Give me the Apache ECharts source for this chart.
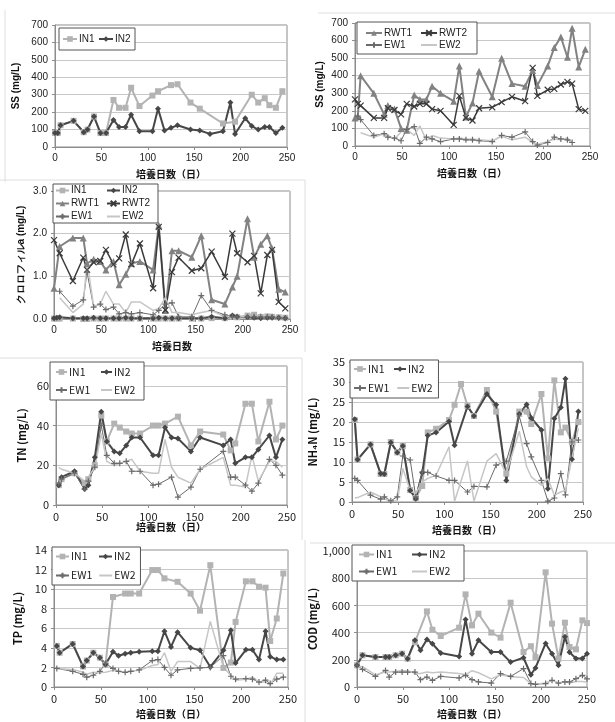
<!DOCTYPE html>
<html lang="ja">
<head>
<meta charset="UTF-8">
<title>水質の経日変化</title>
<script src="https://cdn.jsdelivr.net/npm/echarts@6/dist/echarts.min.js"></script>
<style>
  html, body { margin: 0; padding: 0; background: #fff; }
  #main { width: 615px; height: 722px; }
</style>
</head>
<body>
<div id="main"></div>
<script>
// 培養日数 (common sampling days, null = not measured)
var days = [0, 3, 6, 20, 31, 35, 42, 49, 55, 63, 69, 76, 82, 91, 105, 111, 118, 125, 132, 146, 156, 167, 181, 189, 194, 205, 212, 219, 226, 231, 238, 245, 250];

// SS (mg/L)
var ssIN1 = [80, 80, 125, 150, 85, 100, 175, 80, 80, 270, 225, 225, 340, 235, 295, 320, null, 355, 360, 255, 220, null, 135, null, 145, null, 300, 255, 280, 240, 225, 320, null];
var ssIN2 = [80, 80, 125, 150, 85, 100, 175, 80, 80, 155, 115, 115, 185, 90, 90, 220, 95, 110, 125, 100, 95, 75, 90, 255, 75, 165, 120, 100, 115, 115, 80, 110, null];
var ssRWT1 = [160, 170, 400, 300, 180, 230, 210, 100, 90, 290, 265, 265, 340, 300, 255, 455, 165, 245, 425, 280, 500, 355, 340, 430, 345, 455, 560, 620, 505, 670, 450, 550, null];
var ssRWT2 = [265, 240, 230, 160, 160, 215, 205, 180, 240, 225, 240, 240, 210, 200, 120, 285, 160, 145, 215, 220, 250, 280, 255, 445, 285, 320, 325, 350, 365, 355, 210, 200, null];
var ssEW1 = [null, 170, 150, 60, 70, 50, 45, 30, 95, 110, 15, 50, 40, 25, 40, 40, 35, 35, 30, 25, 60, 50, 80, 25, 5, 20, 50, 40, 35, 20, null, null, null];
var ssEW2 = [null, null, 75, 50, 70, 60, 40, 80, 95, 60, 115, 30, 60, 45, 40, 45, 40, 40, 35, 30, 55, 35, 50, 20, 10, 25, 40, 35, 45, 20, null, null, null];

// クロロフィルa (mg/L)
var chlIN1 = [0.01, 0.01, 0.01, 0.01, 0.0, 0.0, 0.01, 0.01, 0.01, 0.01, 0.01, 0.01, 0.01, 0.01, 0.01, 0.01, 0.01, 0.01, 0.01, 0.01, 0.01, 0.02, 0.02, 0.05, 0.04, 0.08, 0.1, 0.05, 0.06, 0.05, 0.04, 0.03, null];
var chlIN2 = [0.02, 0.03, 0.04, 0.02, 0.02, 0.02, 0.03, 0.02, 0.02, 0.02, 0.02, 0.03, 0.02, 0.02, 0.02, 0.03, 0.02, 0.02, 0.02, 0.02, 0.02, 0.05, 0.02, 0.08, 0.05, 0.04, 0.03, 0.02, 0.03, 0.03, 0.03, 0.02, null];
var chlRWT1 = [0.72, null, 1.7, 1.9, 1.9, 1.3, 1.4, 1.35, 1.15, 1.35, 0.8, 1.05, 1.3, 1.35, 1.15, 2.2, 0.2, 1.6, 1.6, 1.45, 1.95, 0.45, 0.35, 0.75, 1.0, 2.35, 1.45, 1.75, 1.95, 1.65, 0.7, 0.63, null];
var chlRWT2 = [1.85, null, 1.54, 0.89, 1.44, 1.15, 1.33, 1.36, 1.62, 1.28, 1.42, 1.98, 1.28, 1.77, 0.72, 2.16, 0.21, 1.1, 1.44, 1.13, 1.19, 1.58, 0.99, 2.0, 1.54, 1.33, 1.48, 0.6, 1.5, 1.62, 0.4, 0.25, null];
var chlEW1 = [null, null, 0.65, 0.3, 0.45, 1.1, 0.28, 0.35, 0.22, 0.28, 0.12, 0.15, 0.12, 0.15, 0.1, 0.2, 0.35, 0.38, 0.05, 0.05, 0.55, 0.2, 0.1, 0.05, 0.05, 0.05, 0.05, 0.05, 0.05, 0.05, 0.03, 0.02, null];
var chlEW2 = [null, null, 0.5, 0.15, 0.35, 1.35, 0.3, 0.35, 0.65, 0.35, 0.35, 0.15, 0.4, 0.4, 0.2, 0.25, 0.5, 0.15, 0.15, 0.1, 0.15, 0.2, 0.05, 0.05, 0.05, 0.05, 0.08, 0.05, 0.05, 0.05, 0.05, 0.05, null];

// TN (mg/L)
var tnIN1 = [null, 10, 13, 16, 11, 13, 20, 45, 32, 41, 39, 37, 36, 36, 40, 40, 41, null, 44.5, 30, 37, null, 35.5, 27.5, 31, 51, 51, 32, null, 52, 33, 40, null];
var tnIN2 = [null, 10, 14, 17, 8, 10, 24, 47, 32, 27, 26, 30, 34, 34, 25, 25, 39, 34, 33.5, 27, 34, null, 30, 33, 21, 24, 24, 28, null, 35, 24, 33, null];
var tnEW1 = [null, 11, 13, 16, 8, 12, 19, 40, 25, 21, 21, 22, 17, 17, 10, 10.5, null, 14, 4, 9, 18, null, 27, 14, 14, 10, 7, 11, null, 23, 20, 15, null];
var tnEW2 = [null, 19, 18, 16, 12, 14, 19, 36, 22, 20, 21, 22, 23, 17, 16, 16, 33, 19, 14, 11, 18, null, 24, 10, 10, 9, 25, 12, null, 22, 22, 19, null];

// NH4-N (mg/L)
var nhIN1 = [null, 20.5, 10.6, 14.4, 7.0, 7.0, 15, 12.4, 14, 3, 1, 4, 17.4, 18.3, 20.5, 24.3, 29.5, 24, 21.5, 28, 22.6, 7.1, 22.6, 22.6, 19.5, 27, 10.9, 30.4, 17.4, 18.6, 15, 20, null];
var nhIN2 = [null, 20.7, 10.6, 14.4, 7.1, 7.0, 14.9, 12.4, 14.0, 2.9, 0.8, 7.3, 16.6, 17.4, 20.1, 14.2, null, 23.9, 21.5, 27, 24.3, 5.4, 22, 24.4, 21, 18, 3.3, 20.9, 23.6, 30.8, 10.7, 22.6, null];
var nhEW1 = [null, 5.9, 5.4, 1.7, 0.7, 1.3, 0.3, 1.3, 11.5, 10.5, 1.3, 7.5, 7.4, 6.5, 5.4, 5.4, null, 2.5, 3.9, 3.8, 9.2, 10.2, 21.5, 14.6, 11.3, 5.4, 0.2, 1.0, 7.1, 1.8, 15, 15.5, null];
var nhEW2 = [null, 1.0, 1.1, 2.5, 1.3, 0.8, 0.2, 0.3, 8.4, 2.9, 2.1, 5.0, 5.9, 6.7, 13.8, 0.2, null, 10.3, 0.2, 10.2, 12.1, 7.1, 17.7, 8.8, 6.3, 4.2, 5.9, 1.7, 2.5, 2.9, 10.9, 18.4, null];

// TP (mg/L)
var tpIN1 = [null, 4.2, 3.5, 4.4, 2.1, 2.7, 3.5, 3.0, 2.3, 9.2, null, 9.55, 9.55, 9.55, 11.95, 11.95, 11.1, null, 10.75, 9.55, 7.8, 12.45, 1.95, 2.5, 6.65, 10.8, 10.8, 10.25, 10.15, 4.7, 7.0, 11.6, null];
var tpIN2 = [null, 4.2, 3.5, 4.4, 2.1, 2.7, 3.5, 3.0, 2.3, 3.6, 3.2, 3.4, 3.5, 3.6, 3.65, 3.65, 5.7, 4.1, 5.6, 4.0, 3.75, 2.05, 3.75, 5.8, 2.45, 3.8, 3.8, 2.8, 5.7, 3.1, 2.8, 2.8, null];
var tpEW1 = [null, 1.9, null, 1.6, 1.3, 1.0, 1.2, 1.6, 2.4, 1.9, 1.6, 1.5, 1.6, 1.75, 2.7, 2.8, 2.0, 1.2, 1.75, 1.9, 1.95, 2.0, 3.2, 1.1, 0.8, 0.85, 0.8, 0.5, 0.7, 0.35, 0.8, 1.0, null];
var tpEW2 = [null, 1.9, null, 1.8, 1.5, 1.3, 1.5, 1.45, 1.5, 1.7, 1.6, 1.5, 1.6, 1.7, 2.2, 2.3, 3.5, 1.6, 2.6, 2.6, 1.9, 6.7, 2.0, 1.2, 0.7, 0.8, 1.0, 0.5, 0.5, 0.25, 1.4, 1.4, null];

// COD (mg/L)
var codIN1 = [160, null, 233, 220, 220, 220, 233, 245, 208, 330, null, 556, 421, 375, null, 436, 681, 453, 539, 400, 363, 620, 257, 300, 220, 843, 466, 210, 473, 294, 277, 490, 470];
var codIN2 = [160, null, 233, 220, 220, 220, 233, 245, 208, 343, 270, 350, 318, 250, null, 225, 497, 245, 343, 257, 257, 183, 215, 90, 140, 320, 245, 160, 370, 255, 210, 210, 245];
var codEW1 = [160, null, 130, 78, 122, 73, 110, 110, 110, 110, 54, 73, 49, 78, null, 66, 86, 54, 37, 29, 98, 78, 135, 25, 20, 25, 49, 29, 37, 37, 61, 86, 60];
var codEW2 = [150, null, 150, 90, 110, 110, 115, 120, 120, 100, 100, 110, 105, 110, null, 100, 90, 120, 105, 60, 90, 75, 70, 25, 20, 30, 50, 30, 40, 30, 40, 40, 35];

// line look of each sampling point (Excel-like greys)
var styles = {
    IN1: { color: '#b3b3b3', width: 2, symbol: 'rect', size: 6 },
    IN2: { color: '#474747', width: 2, symbol: 'diamond', size: 6 },
    RWT1: { color: '#828282', width: 2, symbol: 'triangle', size: 7 },
    RWT2: { color: '#3a3a3a', width: 1.5, symbol: 'path://M0,0L10,10M10,0L0,10', size: 6, stroke: true },
    EW1: { color: '#6b6b6b', width: 1, symbol: 'path://M5,0L5,10M0,5L10,5', size: 6, stroke: true },
    EW2: { color: '#c6c6c6', width: 1.5, symbol: 'none', size: 0 }
};

var fontA = 'Liberation Sans, Arial, sans-serif';
var fontB = 'Noto Sans CJK JP, sans-serif';

var panels = [
    { box: [55, 25, 232, 122], yMax: 700, yInt: 100, yName: 'SS (mg/L)', yGap: 34, xName: '培養日数（日）', xPos: [171, 174], font: fontA, fs: 10,
      lines: [['IN1', ssIN1], ['IN2', ssIN2]],
      leg: { left: 59, top: 28, width: 76, iw: 14, gap: 2, tw: 17, lh: 12, pad: [5, 3, 5, 3] } },
    { box: [355, 23, 235, 123], yMax: 700, yInt: 100, yName: 'SS (mg/L)', yGap: 30, xName: '培養日数（日）', xPos: [472, 173], font: fontA, fs: 10,
      lines: [['RWT1', ssRWT1], ['RWT2', ssRWT2], ['EW1', ssEW1], ['EW2', ssEW2]],
      leg: { left: 357, top: 22, width: 114, iw: 16, gap: 2, tw: 34, lh: 10, pad: [6, 4, 4, 8] } },
    { box: [54, 191, 236, 128], yMax: 3, yInt: 1, yName: 'クロロフィルa (mg/L)', yGap: 28, xName: '培養日数', xPos: [172, 346], font: fontA, fs: 10, dec: 1,
      lines: [['IN1', chlIN1], ['IN2', chlIN2], ['RWT1', chlRWT1], ['RWT2', chlRWT2], ['EW1', chlEW1], ['EW2', chlEW2]],
      leg: { left: 53, top: 184, width: 106, iw: 13, gap: 2, tw: 33, lh: 11, pad: [1, 3, 1, 2] } },
    { box: [56, 366, 231, 139], yMax: 70, yInt: 20, yName: 'TN (mg/L)', yGap: 29, xName: '培養日数（日）', xPos: [171, 527], font: fontB, fs: 11, hideTop: true,
      lines: [['IN1', tnIN1], ['IN2', tnIN2], ['EW1', tnEW1], ['EW2', tnEW2]],
      leg: { left: 50, top: 362, width: 90, iw: 11, gap: 6, tw: 25, lh: 12, pad: [4, 5, 4, 5] } },
    { box: [352, 362, 231, 140], yMax: 35, yInt: 5, yName: 'NH₄N (mg/L)', yGap: 34, xName: '培養日数（日）', xPos: [467, 530], font: fontB, fs: 11,
      lines: [['IN1', nhIN1], ['IN2', nhIN2], ['EW1', nhEW1], ['EW2', nhEW2]],
      leg: { left: 350, top: 360, width: 82, iw: 12, gap: 7, tw: 18, lh: 12, pad: [3, 6, 4, 3] } },
    { box: [54, 550, 234, 137], yMax: 14, yInt: 2, yName: 'TP (mg/L)', yGap: 31, xName: '培養日数（日）', xPos: [171, 714], font: fontB, fs: 11,
      lines: [['IN1', tpIN1], ['IN2', tpIN2], ['EW1', tpEW1], ['EW2', tpEW2]],
      leg: { left: 52, top: 547, width: 86, iw: 13, gap: 6, tw: 21, lh: 13, pad: [3, 5, 3, 3] } },
    { box: [357, 551, 230, 136], yMax: 1000, yInt: 200, yName: 'COD (mg/L)', yGap: 39, xName: '培養日数（日）', xPos: [472, 714], font: fontB, fs: 11,
      lines: [['IN1', codIN1], ['IN2', codIN2], ['EW1', codEW1], ['EW2', codEW2]],
      leg: { left: 352, top: 545, width: 104, iw: 15, gap: 6, tw: 29, lh: 11, pad: [4, 6, 4, 6] } }
];

var axisGrey = '#8c8c8c';
var option = { animation: false, grid: [], xAxis: [], yAxis: [], legend: [], series: [], graphic: [] };

panels.forEach(function (p, i) {
    option.grid.push({
        left: p.box[0], top: p.box[1], width: p.box[2], height: p.box[3],
        show: true, borderColor: axisGrey, borderWidth: 1
    });
    option.xAxis.push({
        type: 'value', gridIndex: i, min: 0, max: 250, interval: 50,
        axisLine: { show: true, lineStyle: { color: axisGrey } },
        axisTick: { show: true, length: 3, lineStyle: { color: axisGrey } },
        axisLabel: { fontFamily: p.font, fontSize: p.fs, color: '#222', margin: 6 },
        splitLine: { show: false }
    });
    option.yAxis.push({
        type: 'value', gridIndex: i, min: 0, max: p.yMax, interval: p.yInt,
        name: p.yName, nameLocation: 'middle', nameGap: p.yGap, nameRotate: 90,
        nameTextStyle: { fontFamily: p.font, fontSize: p.fs, fontWeight: 'bold', color: '#111' },
        axisLine: { show: true, lineStyle: { color: axisGrey } },
        axisTick: { show: true, length: 3, lineStyle: { color: axisGrey } },
        axisLabel: {
            fontFamily: p.font, fontSize: p.fs, color: '#222', margin: 7,
            formatter: function (v) {
                if (p.hideTop && v === p.yMax) return '';
                if (p.dec) return v.toFixed(p.dec);
                return echarts.format.addCommas(v);
            }
        },
        splitLine: { show: true, lineStyle: { color: '#c8c8c8', width: 1 } }
    });
    // x axis title (培養日数) as plain text under the plot
    option.graphic.push({
        type: 'text', x: p.xPos[0], y: p.xPos[1], silent: true,
        style: { text: p.xName, align: 'center', verticalAlign: 'middle', fill: '#111',
                 font: 'bold 10px "Noto Sans CJK JP", sans-serif' }
    });
    var L = p.leg;
    option.legend.push({
        left: L.left, top: L.top, width: L.width, orient: 'horizontal',
        padding: L.pad, itemGap: L.gap, itemWidth: L.iw, itemHeight: 7,
        borderColor: '#555', borderWidth: 1, backgroundColor: '#fff',
        data: p.lines.map(function (s) {
            return styles[s[0]].symbol === 'none' ? { name: s[0], itemStyle: { opacity: 0 } } : s[0];
        }),
        textStyle: { fontFamily: p.font, fontSize: p.fs === 11 ? 10.5 : 10, color: '#222', width: L.tw, lineHeight: L.lh, padding: [0, 0, 0, -3] }
    });
    p.lines.forEach(function (s) {
        var st = styles[s[0]];
        var pts = [];
        days.forEach(function (d, k) {
            if (s[1][k] !== null) pts.push([d, s[1][k]]);
        });
        option.series.push({
            name: s[0], type: 'line', xAxisIndex: i, yAxisIndex: i,
            data: pts, symbol: st.symbol, symbolSize: st.size, showSymbol: st.symbol !== 'none',
            lineStyle: { color: st.color, width: st.width },
            itemStyle: st.stroke ? { color: st.color, borderColor: st.color, borderWidth: 1.2 } : { color: st.color },
            silent: true, z: 3
        });
    });
});

// faint Excel chart-area frames
var frameLines = [
    [5, 10, 5, 182], [318, 13, 615, 13], [0, 180, 305, 180], [305, 180, 305, 352],
    [0, 358, 302, 358], [302, 358, 302, 540], [305, 540, 305, 722], [310, 543, 615, 543]
];
frameLines.forEach(function (l) {
    option.graphic.push({ type: 'line', shape: { x1: l[0], y1: l[1], x2: l[2], y2: l[3] }, style: { stroke: '#dedede', lineWidth: 1 }, silent: true });
});

var myChart = echarts.init(document.getElementById('main'));
myChart.setOption(option);
window.onresize = myChart.resize;
</script>
</body>
</html>
